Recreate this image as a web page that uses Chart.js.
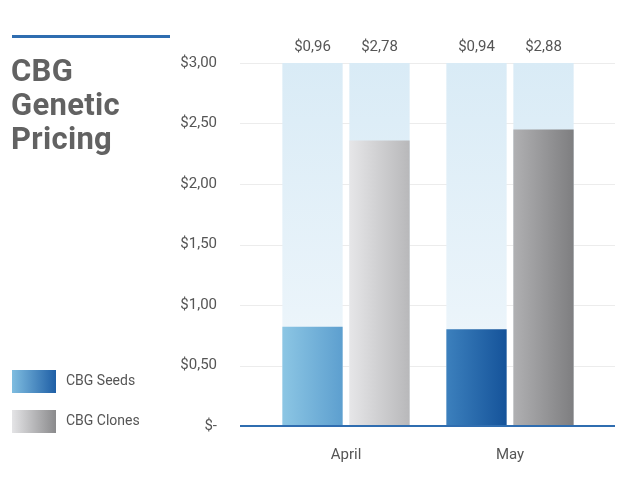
<!DOCTYPE html>
<html><head><meta charset="utf-8">
<script src="https://cdn.jsdelivr.net/npm/chart.js@4/dist/chart.umd.min.js"></script>
<style>
body{margin:0;background:#fff;font-family:Roboto,sans-serif;}
#wrap{position:relative;width:635px;height:487px;}
canvas{position:absolute;left:0;top:0;}
.rule{position:absolute;left:12px;top:35px;width:158px;height:3px;background:#2f6db0;}
.title{position:absolute;left:11px;top:54px;font-size:31px;font-weight:bold;color:#626262;line-height:34px;letter-spacing:0.3px;}
.leg{position:absolute;left:12px;font-size:14px;color:#555;}
.sw{display:inline-block;width:44px;height:23px;vertical-align:middle;margin-right:10px;}
</style></head><body>
<div id="wrap">
<canvas id="c" width="635" height="487"></canvas>
<div class="rule"></div>
<div class="title">CBG<br>Genetic<br>Pricing</div>
<div class="leg" style="top:370px"><span class="sw" style="background:linear-gradient(90deg,#7fbde0,#1f5fa6)"></span>CBG Seeds</div>
<div class="leg" style="top:410px"><span class="sw" style="background:linear-gradient(90deg,#e4e4e6,#8a8a8c)"></span>CBG Clones</div>
</div>
<script>
const categories=["April","May"];
const seeds=[0.82,0.80];
const clones=[2.36,2.45];
const seedLabels=["$0,96","$0,94"];
const cloneLabels=["$2,78","$2,88"];
const yTicks=["$-","$0,50","$1,00","$1,50","$2,00","$2,50","$3,00"];
const seedCols=[["#8cc6e4","#5d9fcf"],["#3c80bd","#15539a"]];
const cloneCols=[["#e6e6e8","#b8b8ba"],["#b0b0b2","#7e7e80"]];
function fill(cols){return (ctx)=>{const ch=ctx.chart,x=ch.scales.x,j=ctx.dataIndex,c=cols[j]||cols[0];
 if(!x||j===undefined) return c[0];
 const slot=(x.getPixelForValue(1)-x.getPixelForValue(0))*0.817/2;
 const cx=x.getPixelForValue(j)+(ctx.datasetIndex===0?-slot/2:slot/2);const w=slot*0.9;
 if(!isFinite(cx)) return c[0];
 const g=ch.ctx.createLinearGradient(cx-w/2,0,cx+w/2,0);g.addColorStop(0,c[0]);g.addColorStop(1,c[1]);return g;};}
const deco={id:'deco',
beforeDatasetsDraw(ch){const c=ch.ctx,y=ch.scales.y,a=ch.chartArea;c.save();
 for(let v=0;v<=3;v+=0.5){const py=Math.round(y.getPixelForValue(v))+0.5;c.strokeStyle='#ececec';c.lineWidth=1;c.beginPath();c.moveTo(240,py);c.lineTo(615,py);c.stroke();}
 ch.data.datasets.forEach((d,i)=>{ch.getDatasetMeta(i).data.forEach(el=>{const g=c.createLinearGradient(0,a.top,0,a.bottom);g.addColorStop(0,'#d9ebf6');g.addColorStop(1,'#f2f8fc');c.fillStyle=g;c.fillRect(el.x-el.width/2,a.top,el.width,a.bottom-a.top);});});
 c.restore();},
afterDatasetsDraw(ch){const c=ch.ctx,a=ch.chartArea;c.save();
 c.strokeStyle='#2f6db0';c.lineWidth=2;c.beginPath();c.moveTo(240,a.bottom);c.lineTo(615,a.bottom);c.stroke();
 c.fillStyle='#555';c.font='15px Roboto';c.textAlign='center';c.textBaseline='alphabetic';
 [seedLabels,cloneLabels].forEach((L,i)=>ch.getDatasetMeta(i).data.forEach((el,j)=>c.fillText(L[j],el.x,a.top-12)));
 c.restore();}};
new Chart(document.getElementById('c'),{type:'bar',
data:{labels:categories,datasets:[{label:'CBG Seeds',data:seeds,backgroundColor:fill(seedCols)},{label:'CBG Clones',data:clones,backgroundColor:fill(cloneCols)}]},
options:{responsive:false,animation:false,
layout:{padding:{top:63,right:43,left:0,bottom:0}},
datasets:{bar:{categoryPercentage:0.817,barPercentage:0.9}},
plugins:{legend:{display:false},tooltip:{enabled:false}},
scales:{
 x:{grid:{display:false},border:{display:false},ticks:{color:'#555',font:{family:'Roboto',size:15},padding:12},afterFit(s){s.height=61;}},
 y:{min:0,max:3,grid:{display:false},border:{display:false},
  ticks:{stepSize:0.5,color:'#555',font:{family:'Roboto',size:15},padding:39,callback:(v)=>yTicks[Math.round(v*2)]},
  afterFit(s){s.width=264;}}}},
plugins:[deco]});
</script></body></html>
